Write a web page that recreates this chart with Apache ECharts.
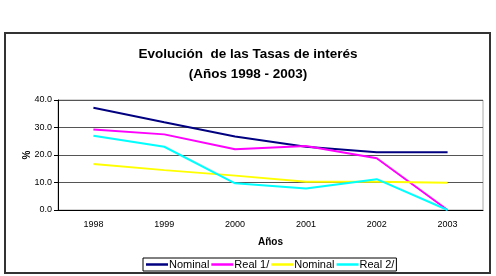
<!DOCTYPE html>
<html>
<head>
<meta charset="utf-8">
<script src="https://cdn.jsdelivr.net/npm/echarts@6/dist/echarts.min.js"></script>
<style>
  html, body { margin: 0; padding: 0; background: #fff; }
  #chart { width: 496px; height: 276px; }
</style>
</head>
<body>
<div id="chart"></div>
<script>
// data
const years = ['1998', '1999', '2000', '2001', '2002', '2003'];
const nominal1 = [37.2, 31.9, 26.7, 23.0, 21.0, 21.0];
const real1 = [29.3, 27.5, 22.1, 23.3, 18.8, 0.0];
const nominal2 = [16.7, 14.5, 12.5, 10.3, 10.3, 9.9];
const real2 = [27.0, 23.0, 9.7, 7.8, 11.2, 0.0];
const seriesNames = ['Nominal', 'Real 1/', 'Nominal ', 'Real 2/'];
const seriesColors = ['#000080', '#ff00ff', '#ffff00', '#00ffff'];

const chart = echarts.init(document.getElementById('chart'));
const font = 'Arial, "Liberation Sans", sans-serif';

const makeLine = (name, data, color) => ({
  name: name,
  type: 'line',
  data: data,
  symbol: 'none',
  lineStyle: { color: color, width: 2 },
  itemStyle: { color: color },
  animation: false
});

chart.setOption({
  backgroundColor: '#fff',
  animation: false,
  title: {
    text: 'Evolución  de las Tasas de interés\n(Años 1998 - 2003)',
    left: 'center',
    top: 39,
    textStyle: { fontFamily: font, fontSize: 13.5, fontWeight: 'bold', color: '#000', lineHeight: 20 }
  },
  graphic: [{
    type: 'rect',
    shape: { x: 5, y: 33, width: 485, height: 240 },
    style: { fill: 'none', stroke: '#333', lineWidth: 2 },
    z: -1
  }],
  legend: {
    left: 143,
    top: 258,
    padding: [1, 2, 1, 3],
    itemGap: 2,
    itemWidth: 22,
    itemHeight: 2.5,
    icon: 'rect',
    borderColor: '#000',
    borderWidth: 1,
    textStyle: { fontFamily: font, fontSize: 11, color: '#000', padding: [0, 0, 0, -4] },
    formatter: n => n.trim(),
    data: seriesNames
  },
  grid: {
    left: 58, right: 13, top: 100, bottom: 66,
    show: true, borderColor: '#aaa', borderWidth: 1
  },
  xAxis: {
    type: 'category',
    data: years,
    name: 'Años',
    nameLocation: 'middle',
    nameGap: 27,
    nameTextStyle: { fontFamily: font, fontSize: 10, fontWeight: 'bold', color: '#000' },
    axisLine: { lineStyle: { color: '#000', width: 1 } },
    axisTick: { length: 4, lineStyle: { color: '#000' } },
    axisLabel: { fontFamily: font, fontSize: 9, color: '#000', margin: 10 }
  },
  yAxis: {
    type: 'value',
    min: 0, max: 40, interval: 10,
    name: '%',
    nameLocation: 'middle',
    nameGap: 26,
    nameMoveOverlap: false,
    nameRotate: 90,
    nameTextStyle: { fontFamily: font, fontSize: 10, fontWeight: 'bold', color: '#000' },
    axisLine: { show: true, lineStyle: { color: '#000', width: 1 } },
    axisTick: { show: true, length: 4, lineStyle: { color: '#000' } },
    axisLabel: { fontFamily: font, fontSize: 9, color: '#000', margin: 6, formatter: v => v.toFixed(1) },
    splitLine: { lineStyle: { color: '#555', width: 1 } }
  },
  series: [
    makeLine(seriesNames[0], nominal1, seriesColors[0]),
    makeLine(seriesNames[1], real1, seriesColors[1]),
    makeLine(seriesNames[2], nominal2, seriesColors[2]),
    makeLine(seriesNames[3], real2, seriesColors[3])
  ]
});
</script>
</body>
</html>
